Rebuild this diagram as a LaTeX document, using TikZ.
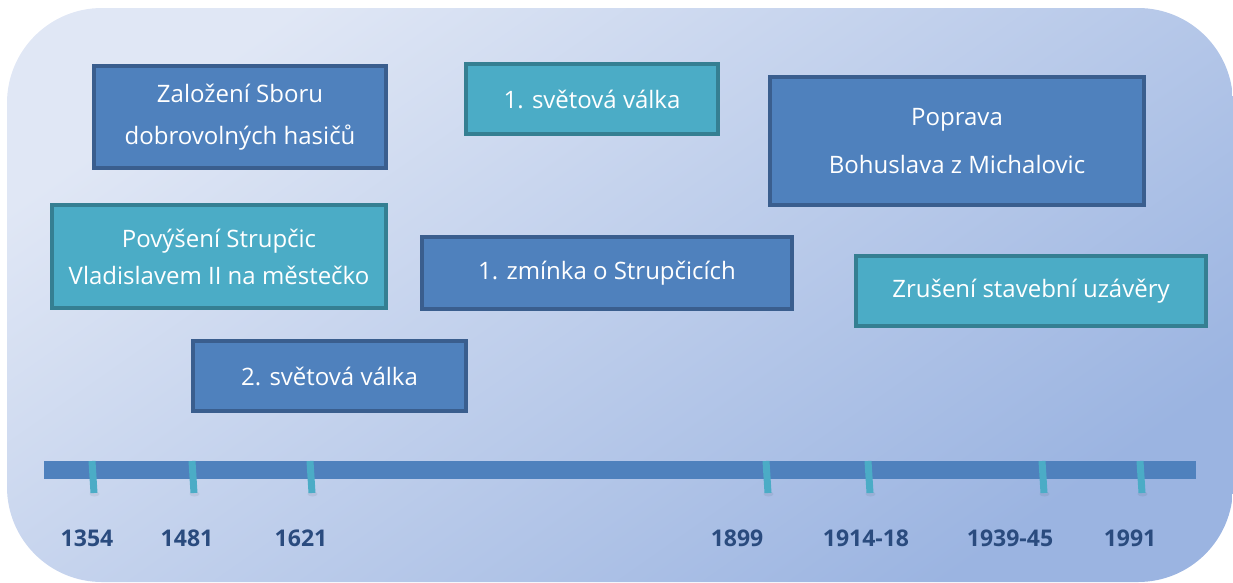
\documentclass[tikz,border=0pt]{standalone}
\usepackage{fontspec}
\setmainfont{Open Sans}
\definecolor{bgA}{HTML}{E0E7F5}
\definecolor{bgB}{HTML}{9BB4E1}
\definecolor{blueF}{HTML}{4F81BD}
\definecolor{blueD}{HTML}{3A5E8E}
\definecolor{tealF}{HTML}{4BACC6}
\definecolor{tealD}{HTML}{357F92}
\definecolor{yearC}{HTML}{2A4B7E}
\begin{document}
\begin{tikzpicture}[x=1pt,y=-1pt,
  box/.style={draw, line width=4.5pt, align=center, text=white, inner sep=0pt,
    font=\fontsize{24}{42}\selectfont},
  bluebox/.style={box, fill=blueF, draw=blueD},
  tealbox/.style={box, fill=tealF, draw=tealD},
  tickmark/.style={line width=7pt, draw=tealF},
  year/.style={text=yearC, font=\fontsize{23}{26}\selectfont\bfseries, anchor=center}]
\useasboundingbox (0,0) rectangle (1233,582);
\shade[rounded corners=95pt, top color=bgA, bottom color=bgB, shading angle=35]
  (7,8) rectangle (1233,582);
% boxes
\node[bluebox, minimum width=292pt, minimum height=102pt] (zalozeni) at (240,117)
  {Založení Sboru\\dobrovolných hasičů};
\node[tealbox, minimum width=252pt, minimum height=70pt] (svet1) at (592,99)
  {1. světová válka};
\node[bluebox, minimum width=374pt, minimum height=128pt, font=\fontsize{24}{48}\selectfont] (poprava) at (957,141)
  {Poprava\\Bohuslava z Michalovic};
\node[tealbox, minimum width=334pt, minimum height=103pt, font=\fontsize{24}{37}\selectfont] (povyseni) at (219,256.5)
  {Povýšení Strupčic\\Vladislavem II na městečko};
\node[bluebox, minimum width=370pt, minimum height=72pt] (zminka) at (607,273)
  {1. zmínka o Strupčicích};
\node[tealbox, minimum width=350pt, minimum height=70pt] (zruseni) at (1031,291)
  {Zrušení stavební uzávěry};
\node[bluebox, minimum width=273pt, minimum height=70pt] (svet2) at (329.5,376)
  {2. světová válka};
% timeline
\coordinate (tlA) at (44,470);
\coordinate (tlB) at (1196,470);
\draw[line width=18pt, blueF] (tlA) -- (tlB);
\foreach \x/\n in {93/a,193/b,311/c,767/d,869/e,1043/f,1141/g}{
  \fill[black, opacity=0.06] (\x+1.5,494) ellipse (5pt and 2.5pt);
  \coordinate (t\n1) at (\x-1,461);
  \coordinate (t\n2) at (\x+1,493);
  \draw[tickmark] (t\n1) -- (t\n2);
}
% years
\node[year] (y1) at (87,538) {1354};
\node[year] (y2) at (187,538) {1481};
\node[year] (y3) at (301,538) {1621};
\node[year] (y4) at (737,538) {1899};
\node[year] (y5) at (866,538) {1914-18};
\node[year] (y6) at (1010,538) {1939-45};
\node[year] (y7) at (1130,538) {1991};
\end{tikzpicture}
\end{document}
